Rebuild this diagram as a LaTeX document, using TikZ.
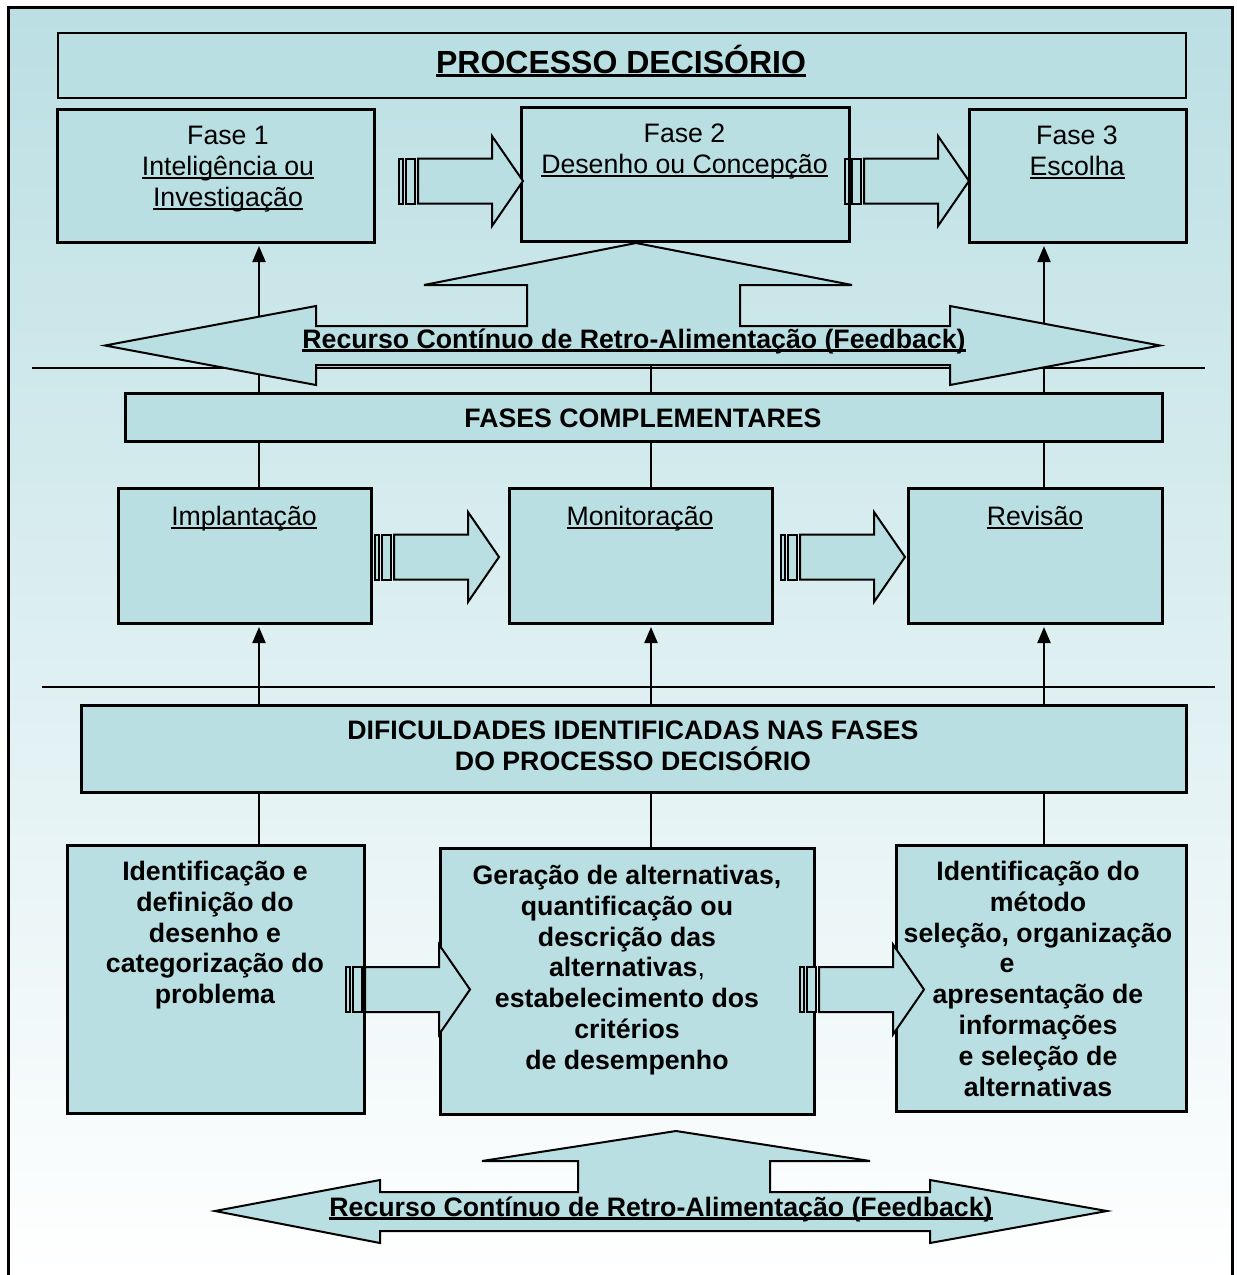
\documentclass[tikz,border=0pt]{standalone}
\usepackage{fontspec}
\setmainfont{Liberation Sans}
\usetikzlibrary{arrows.meta}
\definecolor{boxfill}{RGB}{185,223,227}
\definecolor{bgtop}{RGB}{187,223,227}
% underline at a fixed depth below the baseline
\newcommand\undl[2][2pt]{\setbox0\hbox{#2}\rlap{\rule[-3.4pt]{\wd0}{#1}}\box0}
\tikzset{
  frame/.style={line width=3pt},
  box/.style={draw, line width=2pt, fill=boxfill, inner sep=0pt, anchor=north west},
  conn/.style={line width=2pt},
  tip/.style={-{Triangle[length=16pt,width=13pt]}},
  txt/.style={align=center, anchor=base, inner sep=0pt, font=\fontsize{26.7}{30.8}\selectfont},
  btxt/.style={txt, font=\fontsize{26.7}{30.8}\selectfont\bfseries},
  blk/.style={draw, line width=2pt, fill=boxfill, line join=miter},
}
% striped block arrow: #1 = left x, #2 = centre y
\newcommand\blockarrow[2]{%
  \draw[blk] (#1,{#2-22.5}) rectangle ({#1+4},{#2+22.5});
  \draw[blk] ({#1+7},{#2-22.5}) rectangle ({#1+16},{#2+22.5});
  \draw[blk] ({#1+19},{#2-22.5}) -- ({#1+93},{#2-22.5}) -- ({#1+93},{#2-45})
    -- ({#1+124},#2) -- ({#1+93},{#2+45}) -- ({#1+93},{#2+22.5})
    -- ({#1+19},{#2+22.5}) -- cycle;}
\begin{document}
\begin{tikzpicture}[x=1pt,y=-1pt]
\useasboundingbox (0,0) rectangle (1237,1275);
% background and frame
\shade[top color=bgtop, bottom color=white] (8,7) rectangle (1232,1275);
\draw[frame] (8,1280) -- (8,7) -- (1232,7) -- (1232,1280);

% column positions of the vertical links
\coordinate (xa) at (259,0);
\coordinate (xb) at (651,0);
\coordinate (xc) at (1044,0);

% horizontal separators
\coordinate (h1l) at (32,368);  \coordinate (h1r) at (1205,368);
\coordinate (h2l) at (42,687);  \coordinate (h2r) at (1215,687);
\draw[conn] (h1l) -- (h1r);
\draw[conn] (h2l) -- (h2r);

% boxes
\node[box, minimum width=1128, minimum height=65]  (title) at (57,32) {};
\node[box, minimum width=316,  minimum height=132] (f1) at (57,109) {};
\node[box, minimum width=327,  minimum height=133] (f2) at (521,107) {};
\node[box, minimum width=216,  minimum height=132] (f3) at (969,109) {};
\node[box, minimum width=1036, minimum height=47]  (fc) at (125,393) {};
\node[box, minimum width=252,  minimum height=134] (m1) at (118,488) {};
\node[box, minimum width=262,  minimum height=134] (m2) at (509,488) {};
\node[box, minimum width=253,  minimum height=134] (m3) at (908,488) {};
\node[box, minimum width=1104, minimum height=86]  (dif) at (81,705) {};
\node[box, minimum width=296,  minimum height=267] (b1) at (67,845) {};
\node[box, minimum width=373,  minimum height=265] (b2) at (440,848) {};
\node[box, minimum width=289,  minimum height=265] (b3) at (896,845) {};

% vertical links
\coordinate (fbmid) at (651,330);
\draw[conn,tip] (fc.north -| xa) -- ([yshift=-3pt]f1.south -| xa);
\draw[conn,tip] (fc.north -| xc) -- ([yshift=-3pt]f3.south -| xc);
\draw[conn] (fc.north -| xb) -- (fbmid);
\draw[conn] (fc.south -| xa) -- (m1.north -| xa);
\draw[conn] (fc.south -| xb) -- (m2.north -| xb);
\draw[conn] (fc.south -| xc) -- (m3.north -| xc);
\draw[conn,tip] (dif.north -| xa) -- ([yshift=-3pt]m1.south -| xa);
\draw[conn,tip] (dif.north -| xb) -- ([yshift=-3pt]m2.south -| xb);
\draw[conn,tip] (dif.north -| xc) -- ([yshift=-3pt]m3.south -| xc);
\draw[conn] (dif.south -| xa) -- (b1.north -| xa);
\draw[conn] (dif.south -| xb) -- (b2.north -| xb);
\draw[conn] (dif.south -| xc) -- (b3.north -| xc);

% redraw box outlines over link ends
\foreach \n in {f1,f2,f3,fc,m1,m2,m3,dif,b1,b2,b3}{
  \draw[line width=2pt] (\n.north west) rectangle (\n.south east);}

% striped arrows between phases
\blockarrow{399}{181}
\blockarrow{845}{181}
\blockarrow{375}{557}
\blockarrow{781}{557}
\blockarrow{346}{989.5}
\blockarrow{800}{989.5}

% feedback arrows
\draw[blk] (105,345.5) -- (316,306) -- (316,326) -- (527,326) -- (527,285)
  -- (424,285) -- (636,243) -- (852,285) -- (740,285) -- (740,326)
  -- (950,326) -- (950,306) -- (1160,345.5) -- (950,385) -- (950,365)
  -- (316,365) -- (316,385) -- cycle;
\draw[blk] (215,1211) -- (380,1180) -- (380,1192) -- (578,1192) -- (578,1161)
  -- (482,1161) -- (676,1131) -- (870,1161) -- (770,1161) -- (770,1192)
  -- (930,1192) -- (930,1180) -- (1107,1211) -- (930,1243) -- (930,1231)
  -- (380,1231) -- (380,1243) -- cycle;

% texts (multi-line nodes are placed by the baseline of their last line)
\node[txt, font=\fontsize{32}{36}\selectfont\bfseries] (tt) at (621,73.5)
  {\undl[3pt]{PROCESSO DECISÓRIO}};
\node[txt] (t1) at (228,206.1) {Fase 1\\\undl{Inteligência ou}\\\undl{Investigação}};
\node[txt] (t2) at (684.5,173.3) {Fase 2\\\undl{Desenho ou Concepção}};
\node[txt] (t3) at (1077,175.3) {Fase 3\\\undl{Escolha}};
\node[btxt] (tfb1) at (634,348.5)
  {\undl[3pt]{Recurso Contínuo de Retro-Alimentação (Feedback)}};
\node[btxt] (tfc) at (643,427.5) {FASES COMPLEMENTARES};
\node[txt] (tm1) at (244,525.5) {\undl{Implantação}};
\node[txt] (tm2) at (640,525.5) {\undl{Monitoração}};
\node[txt] (tm3) at (1035,525.5) {\undl{Revisão}};
\node[btxt] (tdif) at (633,770) {DIFICULDADES IDENTIFICADAS NAS FASES\\DO PROCESSO DECISÓRIO};
\node[btxt] (tb1) at (215,1003.7)
  {Identificação e\\definição do\\desenho e\\categorização do\\problema};
\node[btxt] (tb2) at (627,1069.3)
  {Geração de alternativas,\\quantificação ou\\descrição das\\alternativas{\mdseries ,}\\estabelecimento dos\\critérios\\de desempenho};
\node[btxt] (tb3) at (1038,1096.1)
  {Identificação do\\método\\seleção, organização\\\hbox{e\hspace{62pt}}\\apresentação de\\informações\\e seleção de\\alternativas};
\node[btxt] (tfb2) at (661,1216.5)
  {\undl[3pt]{Recurso Contínuo de Retro-Alimentação (Feedback)}};
\end{tikzpicture}
\end{document}
